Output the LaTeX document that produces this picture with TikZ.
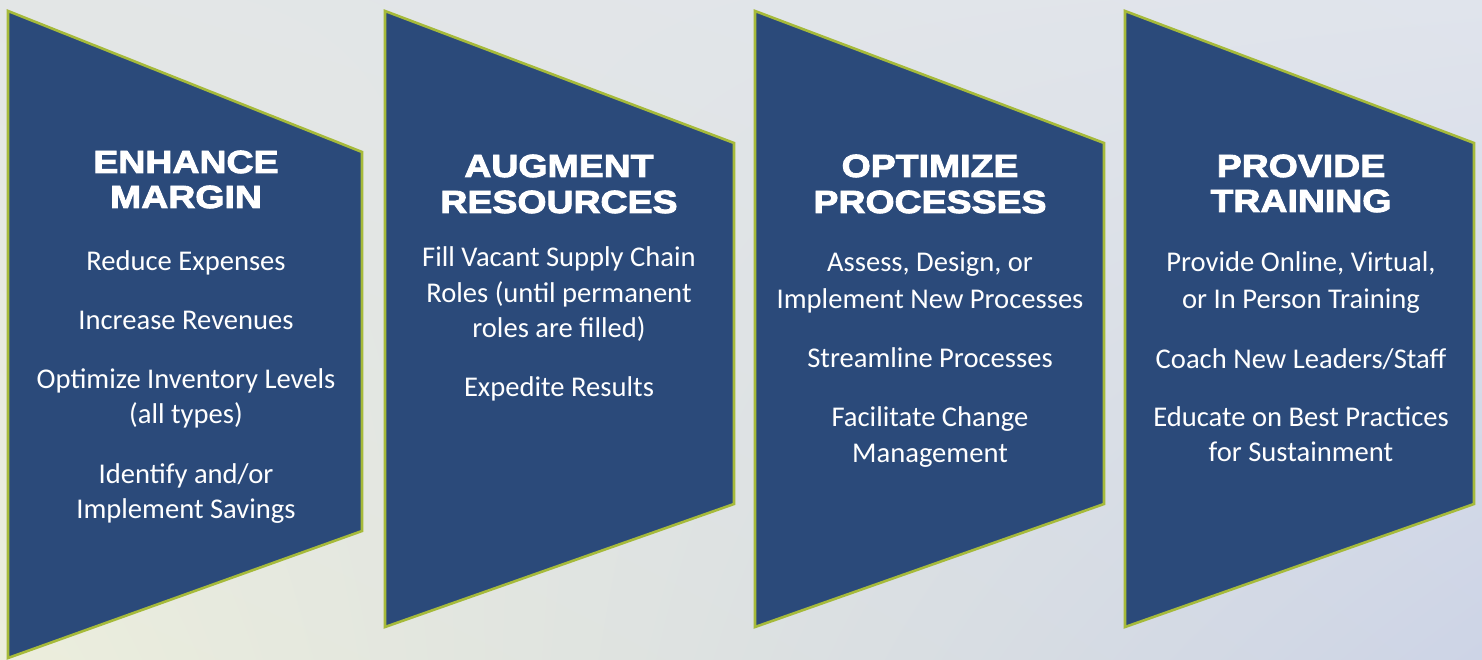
\documentclass[tikz,border=0pt]{standalone}
\usepackage{fontspec}
\usetikzlibrary{shadings}
\setmainfont{Carlito}
\newfontfamily\headfont{Liberation Sans}[FakeStretch=1.17,FakeBold=2.8]
\definecolor{panelfill}{RGB}{43,74,122}
\definecolor{panelline}{RGB}{166,186,58}
\definecolor{bgTL}{RGB}{227,230,230}
\definecolor{bgBL}{RGB}{236,238,220}
\definecolor{bgTR}{RGB}{224,228,236}
\definecolor{bgBR}{RGB}{205,212,230}
\tikzset{
  panel/.style={fill=panelfill,draw=panelline,line width=2.6pt,line join=miter},
  head/.style={text=white,anchor=base,inner sep=0pt,font=\headfont\bfseries\fontsize{32}{35}\selectfont},
  body/.style={text=white,anchor=base,inner sep=0pt,font=\fontsize{28.6}{34}\selectfont}
}
\begin{document}
\begin{tikzpicture}[x=1pt,y=-1pt]
\useasboundingbox (0,0) rectangle (1482,660);
\shade[upper left=bgTL,upper right=bgTR,lower left=bgBL,lower right=bgBR] (0,0) rectangle (1482,660);
% panels
\draw[panel] (8,11) -- (362,152) -- (362,531) -- (8,658) -- cycle;
\draw[panel] (385,11) -- (734,143) -- (734,504) -- (385,627) -- cycle;
\draw[panel] (755,11) -- (1104,143) -- (1104,504) -- (755,627) -- cycle;
\draw[panel] (1125,11) -- (1474,143) -- (1474,504) -- (1125,627) -- cycle;
% panel 1
\node[head] (h1a) at (186,173) {ENHANCE};
\node[head] (h1b) at (186,208) {MARGIN};
\node[body] (t1a) at (186,270) {Reduce Expenses};
\node[body] (t1b) at (186,329) {Increase Revenues};
\node[body] (t1c) at (186,388) {Optimize Inventory Levels};
\node[body] (t1d) at (186,423) {(all types)};
\node[body] (t1e) at (186,483) {Identify and/or};
\node[body] (t1f) at (186,518) {Implement Savings};
% panel 2
\node[head] (h2a) at (559,177) {AUGMENT};
\node[head] (h2b) at (559,213) {RESOURCES};
\node[body] (t2a) at (559,266) {Fill Vacant Supply Chain};
\node[body] (t2b) at (559,302) {Roles (until permanent};
\node[body] (t2c) at (559,337) {roles are filled)};
\node[body] (t2d) at (559,396) {Expedite Results};
% panel 3
\node[head] (h3a) at (930,177) {OPTIMIZE};
\node[head] (h3b) at (930,213) {PROCESSES};
\node[body] (t3a) at (930,272) {Assess, Design, or};
\node[body] (t3b) at (930,308) {Implement New Processes};
\node[body] (t3c) at (930,367) {Streamline Processes};
\node[body] (t3d) at (930,426) {Facilitate Change};
\node[body] (t3e) at (930,462) {Management};
% panel 4
\node[head] (h4a) at (1301,177) {PROVIDE};
\node[head] (h4b) at (1301,212) {TRAINING};
\node[body] (t4a) at (1301,271) {Provide Online, Virtual,};
\node[body] (t4b) at (1301,308) {or In Person Training};
\node[body] (t4c) at (1301,368) {Coach New Leaders/Staff};
\node[body] (t4d) at (1301,426) {Educate on Best Practices};
\node[body] (t4e) at (1301,461) {for Sustainment};
\end{tikzpicture}
\end{document}
